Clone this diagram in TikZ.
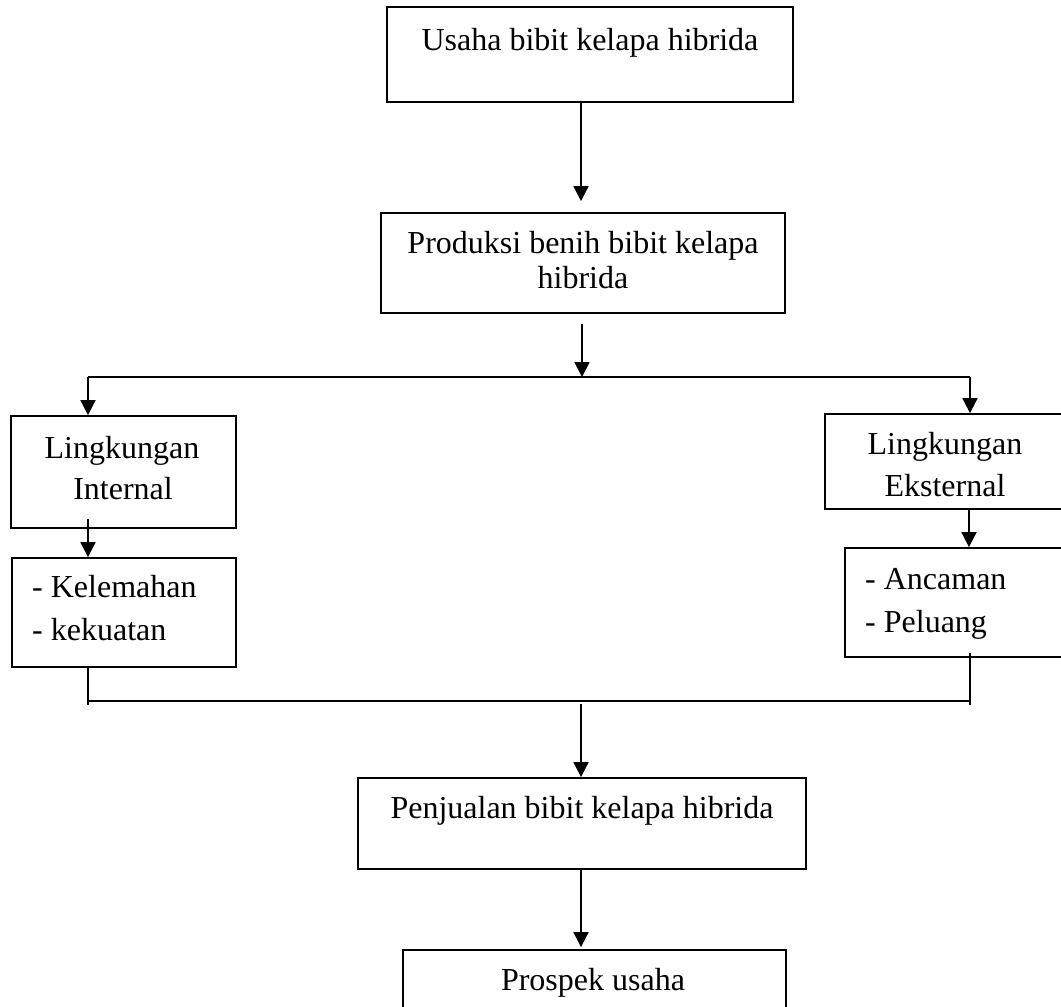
\documentclass[tikz,border=0pt]{standalone}
\usepackage{fontspec}
\setmainfont{Liberation Serif}
\usetikzlibrary{arrows.meta}
\begin{document}
\begin{tikzpicture}[x=1pt,y=-1pt,
  box/.style={draw, line width=1.8pt, inner sep=0pt, rectangle},
  txt/.style={anchor=base, inner sep=0pt, font=\fontsize{32}{38}\selectfont},
  ltxt/.style={anchor=base west, inner sep=0pt, font=\fontsize{32}{38}\selectfont},
  arr/.style={line width=1.8pt, -{Triangle[length=15pt,width=15pt]}},
  ln/.style={line width=1.8pt}]
\useasboundingbox (0,0) rectangle (1061,1007);
\fill[white] (0,0) rectangle (1061,1007);

% boxes
\node[box, minimum width=406pt, minimum height=95pt] (b1) at (590,54.5) {};
\node[box, minimum width=404pt, minimum height=100pt] (b2) at (583,263) {};
\node[box, minimum width=225pt, minimum height=112pt] (b3) at (123.5,472) {};
\node[box, minimum width=224pt, minimum height=109pt] (b4) at (124,612.5) {};
\node[box, minimum width=260pt, minimum height=95pt] (b5) at (955,461.5) {};
\node[box, minimum width=240pt, minimum height=109pt] (b6) at (965,602.5) {};
\node[box, minimum width=448pt, minimum height=91pt] (b7) at (582,823.5) {};
\node[box, minimum width=383pt, minimum height=80pt] (b8) at (594.5,990) {};

% texts
\node[txt] (t1) at (590,50) {Usaha bibit kelapa hibrida};
\node[txt] (t2a) at (583,253) {Produksi benih bibit kelapa};
\node[txt] (t2b) at (583,288) {hibrida};
\node[txt] (t3a) at (122,458) {Lingkungan};
\node[txt] (t3b) at (123,499) {Internal};
\node[ltxt] (t4a) at (32,597) {- Kelemahan};
\node[ltxt] (t4b) at (32,640) {- kekuatan};
\node[txt] (t5a) at (945,454) {Lingkungan};
\node[txt] (t5b) at (945,496) {Eksternal};
\node[ltxt] (t6a) at (865,589) {- Ancaman};
\node[ltxt] (t6b) at (865,632) {- Peluang};
\node[txt] (t7) at (582,818) {Penjualan bibit kelapa hibrida};
\node[txt] (t8) at (593,990) {Prospek usaha};

% junction coordinates
\coordinate (sp) at (582,377);
\coordinate (spl) at (88,377);
\coordinate (spr) at (970,377);
\coordinate (jn) at (581,701);
\coordinate (jl) at (88,701);
\coordinate (jr) at (970,701);
\coordinate (jlb) at (88,705);
\coordinate (jrb) at (970,705);

% connectors
\draw[arr, shorten >=11pt] (b1.south -| 581,0) -- (b2.north -| 581,0);
\draw[arr, shorten <=10pt] (b2.south -| sp) -- (sp);
\draw[ln] (spl) -- (spr);
\draw[arr] (spl) -- (b3.north -| spl);
\draw[arr] (spr) -- (b5.north -| spr);
\draw[arr, shorten <=-10pt] (b3.south -| spl) -- (b4.north -| spl);
\draw[arr] (b5.south -| 969,0) -- (b6.north -| 969,0);
\draw[ln] (b4.south -| jl) -- (jlb);
\draw[ln, shorten <=-5pt] (b6.south -| jr) -- (jrb);
\draw[ln] (jl) -- (jr);
\draw[arr, shorten <=3pt] (jn) -- (b7.north -| jn);
\draw[arr, shorten >=2pt] (b7.south -| jn) -- (b8.north -| jn);
\end{tikzpicture}
\end{document}
